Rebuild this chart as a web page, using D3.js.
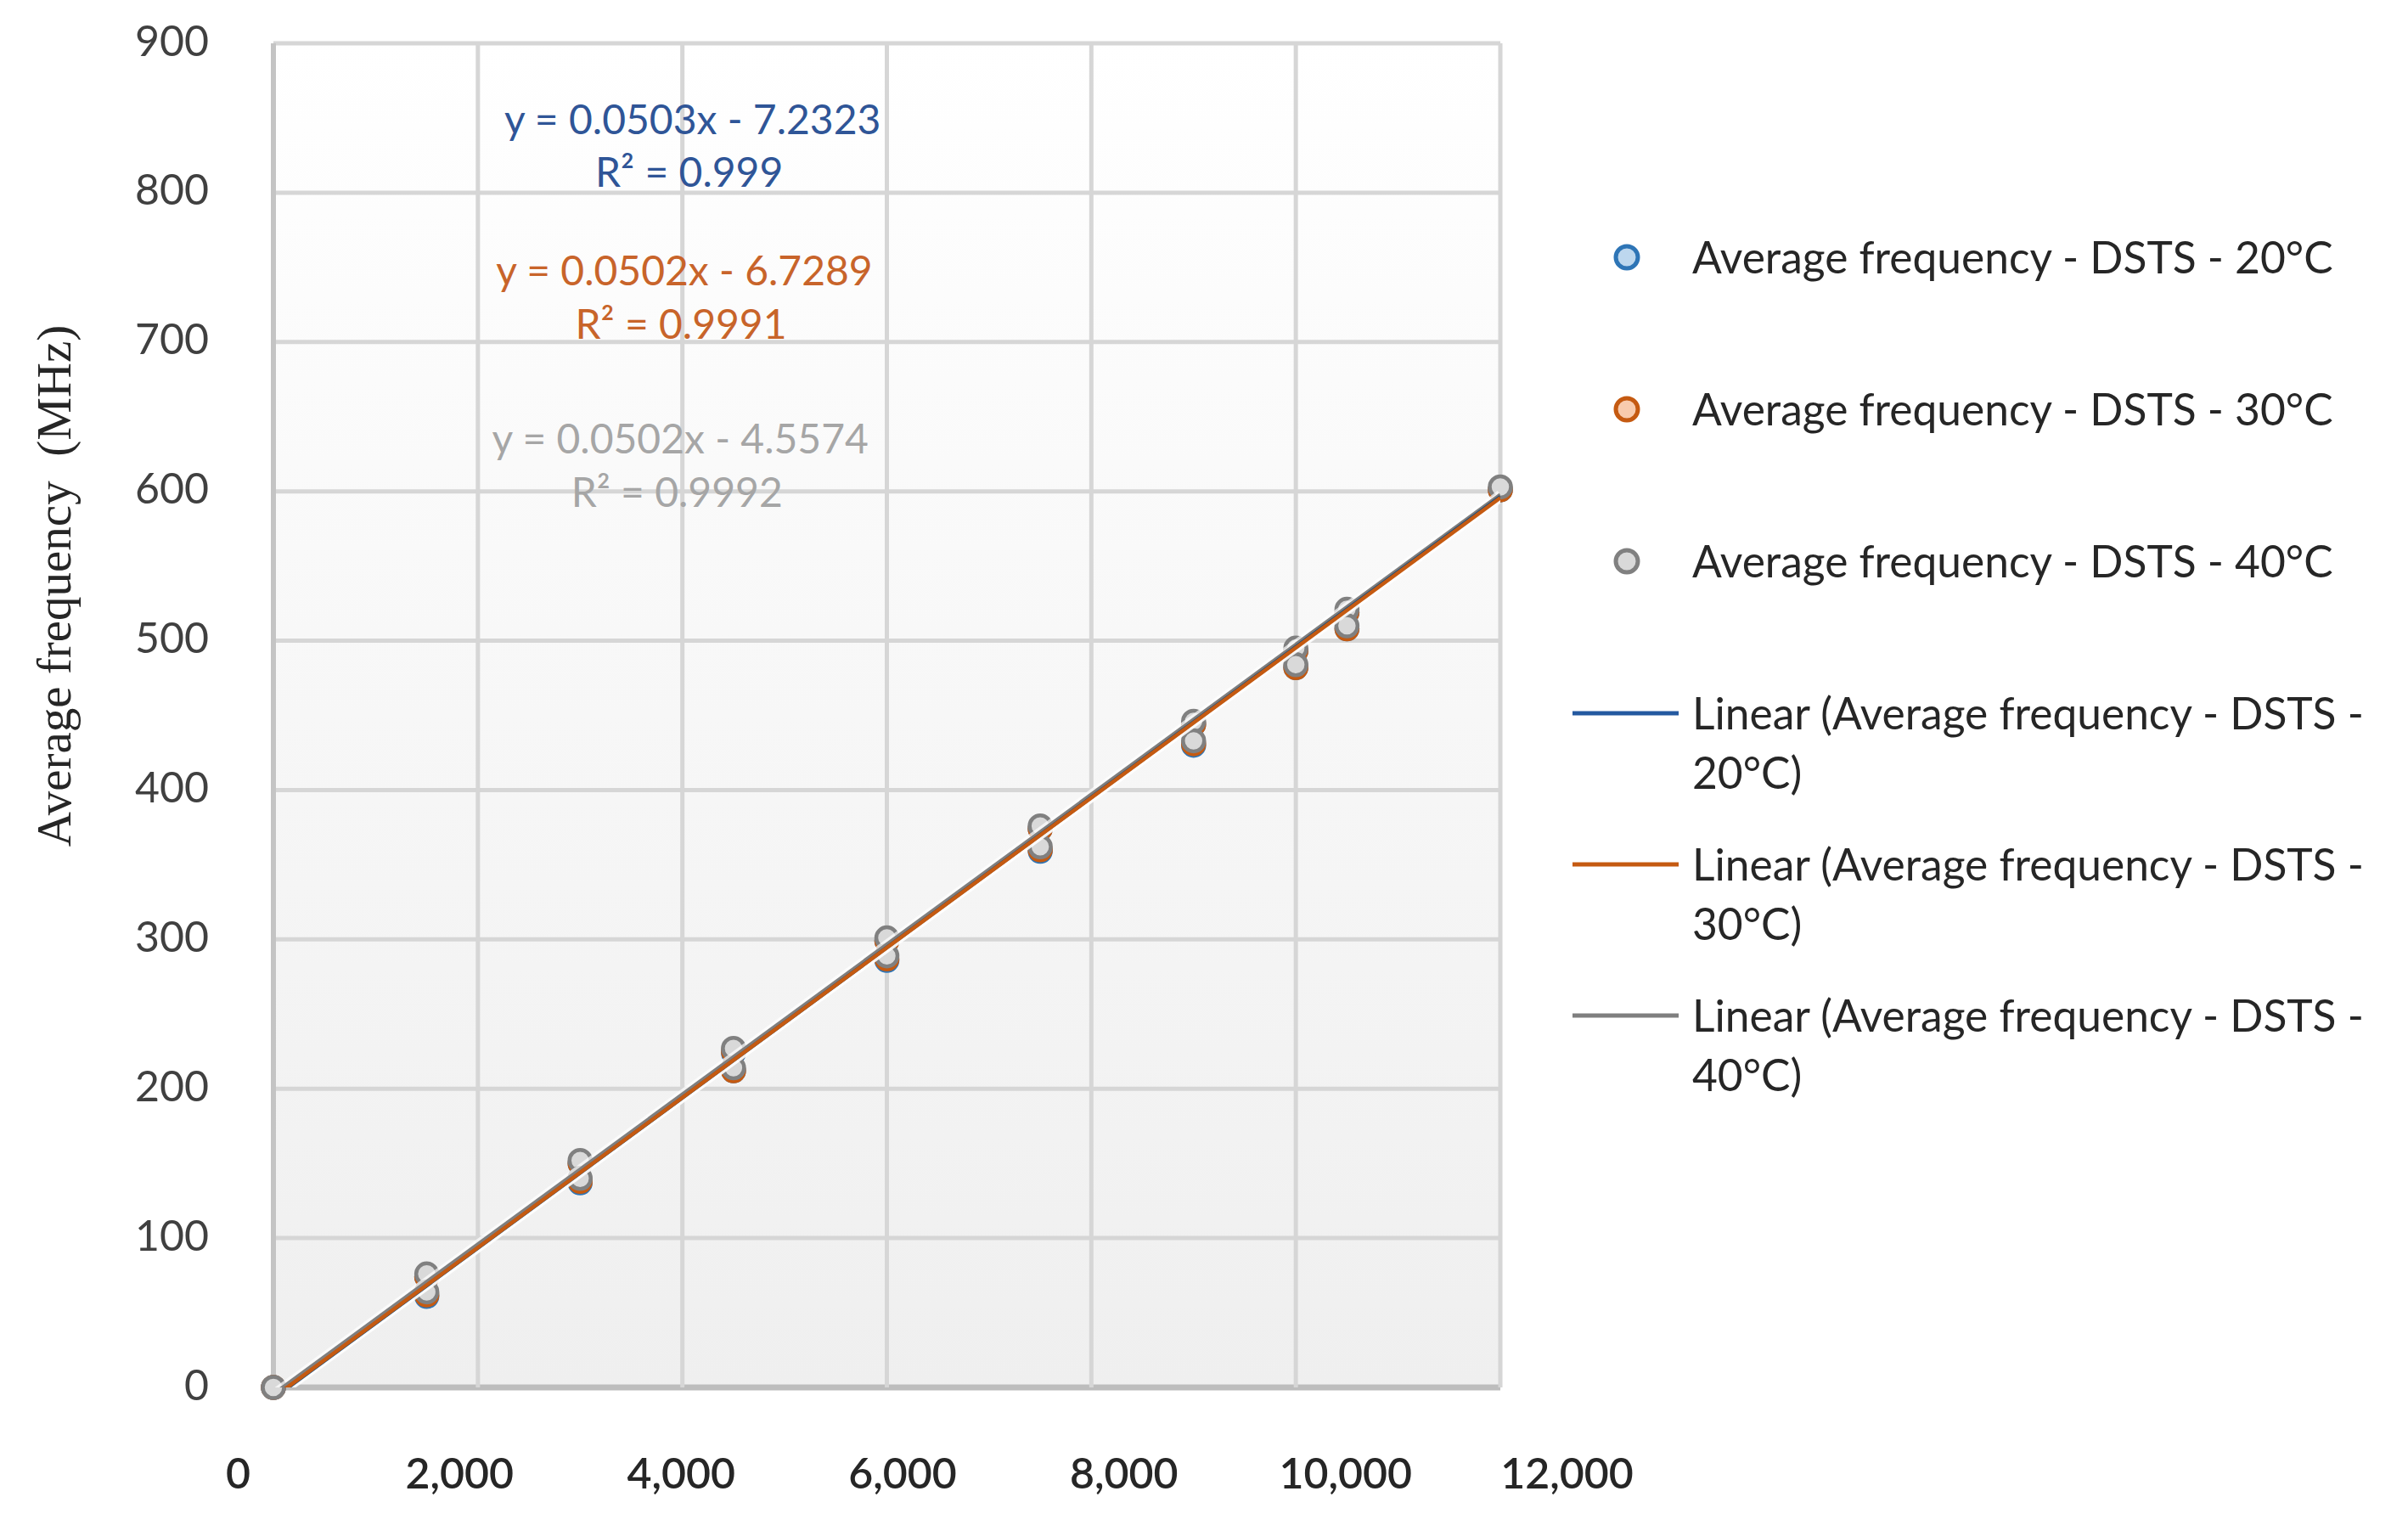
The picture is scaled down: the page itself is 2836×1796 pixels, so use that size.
<!DOCTYPE html>
<html>
<head>
<meta charset="utf-8">
<script src="https://cdn.jsdelivr.net/npm/d3@7"></script>
<style>
  html, body { margin: 0; padding: 0; background: #ffffff; }
  svg { display: block; }
</style>
</head>
<body>
<svg id="chart" width="2836" height="1796"></svg>
<script>
// ---------------- DATA ----------------
const xTickValues = [0, 2000, 4000, 6000, 8000, 10000, 12000];
const yTickValues = [0, 100, 200, 300, 400, 500, 600, 700, 800, 900];

const seriesNames = [
  "Average frequency - DSTS - 20°C",
  "Average frequency - DSTS - 30°C",
  "Average frequency - DSTS - 40°C"
];
const trendNames = [
  ["Linear (Average frequency - DSTS -", "20°C)"],
  ["Linear (Average frequency - DSTS -", "30°C)"],
  ["Linear (Average frequency - DSTS -", "40°C)"]
];

// sample positions (DSTS values)
const xValues = [0, 1500, 1500, 3000, 3000, 4500, 4500, 6000, 6000, 7500, 7500,
                 9000, 9000, 10000, 10000, 10500, 10500, 12000];
// average frequency (MHz)
const freq20 = [0, 74, 61, 150, 137, 224, 212, 299, 286, 374, 359, 444, 430, 493, 482, 519, 508, 601];
const freq30 = [0, 74, 62, 150, 138, 225, 212, 299, 287, 374, 360, 444, 431, 493, 482, 519, 508, 601];
const freq40 = [0, 76, 64, 152, 140, 227, 214, 301, 289, 376, 362, 446, 433, 495, 484, 521, 510, 603];

const trendSlopes = [0.0503, 0.0502, 0.0502];
const trendIntercepts = [-7.2323, -6.7289, -4.5574];
const rSquared = ["0.999", "0.9991", "0.9992"];
const equationTexts = ["y = 0.0503x - 7.2323", "y = 0.0502x - 6.7289", "y = 0.0502x - 4.5574"];

// ---------------- STYLE ----------------
const markerStroke = ["#2e75b6", "#c55a11", "#808080"];
const markerFill = ["#bdd7ee", "#f8cbad", "#d9d9d9"];
const trendColor = ["#1f4e79", "#c55a11", "#7f7f7f"];
const eqColor = ["#2f5597", "#c8642a", "#a6a6a6"];
const sansFont = "Lato, 'Open Sans', sans-serif";

const svg = d3.select("#chart");

const plot = { left: 322, right: 1767, top: 51, bottom: 1634 };

const x = d3.scaleLinear().domain([0, 12000]).range([plot.left, plot.right]);
const y = d3.scaleLinear().domain([0, 900]).range([plot.bottom, plot.top]);
// tick labels of the x axis sit on a wider band than the grid in the original figure
const xLabel = d3.scaleLinear().domain([0, 12000]).range([280, 1845]);

// background gradient
const defs = svg.append("defs");
const grad = defs.append("linearGradient").attr("id", "bg").attr("x1", 0).attr("y1", 0).attr("x2", 0).attr("y2", 1);
grad.append("stop").attr("offset", "0%").attr("stop-color", "#ffffff");
grad.append("stop").attr("offset", "100%").attr("stop-color", "#efefef");
defs.append("clipPath").attr("id", "plotClip")
  .append("rect")
  .attr("x", plot.left).attr("y", plot.top)
  .attr("width", plot.right - plot.left).attr("height", plot.bottom - plot.top);

svg.append("rect")
  .attr("x", plot.left).attr("y", plot.top)
  .attr("width", plot.right - plot.left).attr("height", plot.bottom - plot.top)
  .attr("fill", "url(#bg)");

// gridlines
const grid = svg.append("g");
grid.selectAll("line.h").data(yTickValues).join("line")
  .attr("class", "h")
  .attr("x1", plot.left).attr("x2", plot.right)
  .attr("y1", d => y(d)).attr("y2", d => y(d))
  .attr("stroke", d => d === 0 ? "#bdbdbd" : "#d6d6d6")
  .attr("stroke-width", d => d === 0 ? 7 : 5);
grid.selectAll("line.v").data(xTickValues).join("line")
  .attr("class", "v")
  .attr("x1", d => x(d)).attr("x2", d => x(d))
  .attr("y1", plot.top).attr("y2", plot.bottom)
  .attr("stroke", d => d === 0 ? "#c4c4c4" : "#d6d6d6")
  .attr("stroke-width", d => d === 0 ? 6 : 5);

// axes (labels only)
const yAxis = svg.append("g")
  .attr("transform", `translate(${plot.left},0)`)
  .call(d3.axisLeft(y).tickValues(yTickValues).tickSize(0).tickPadding(76).tickFormat(d3.format("d")));
yAxis.select(".domain").remove();
yAxis.selectAll("text")
  .attr("font-family", sansFont).attr("font-size", 50).attr("fill", "#404040")
  .attr("dy", "0.28em");

const xAxis = svg.append("g")
  .attr("transform", `translate(0,1735)`)
  .call(d3.axisBottom(xLabel).tickValues(xTickValues).tickSize(0).tickFormat(d3.format(",")));
xAxis.select(".domain").remove();
xAxis.selectAll("text")
  .attr("y", 0).attr("dy", "0.36em")
  .attr("font-family", sansFont).attr("font-size", 50).attr("font-weight", 600).attr("fill", "#262626");

// y axis title
svg.append("text")
  .attr("transform", `translate(63,690) rotate(-90)`)
  .attr("text-anchor", "middle").attr("dominant-baseline", "central")
  .attr("font-family", "'Liberation Serif', 'Times New Roman', serif")
  .attr("font-size", 57).attr("fill", "#262626")
  .attr("xml:space", "preserve")
  .text("Average frequency  (MHz)");

// markers
const seriesValues = [freq20, freq30, freq40];
const markers = svg.append("g");
seriesValues.forEach((vals, i) => {
  markers.append("g").selectAll("circle")
    .data(xValues.map((xv, k) => ({ x: xv, y: vals[k] })))
    .join("circle")
    .attr("cx", d => x(d.x)).attr("cy", d => y(d.y))
    .attr("r", 12.5)
    .attr("fill", markerFill[i])
    .attr("stroke", markerStroke[i])
    .attr("stroke-width", 4.5);
});

// trendlines
const trendOrder = [2, 0, 1];
const trends = svg.append("g").attr("clip-path", "url(#plotClip)");
const line = d3.line().x(d => x(d[0])).y(d => y(d[1]));
trendOrder.forEach(i => {
  const xs = d3.extent(xValues);
  const pts = xs.map(xv => [xv, trendSlopes[i] * xv + trendIntercepts[i]]);
  trends.append("path").attr("d", line(pts))
    .attr("fill", "none").attr("stroke", "#ffffff").attr("stroke-opacity", 0.7).attr("stroke-width", 11);
});
trendOrder.forEach(i => {
  const xs = d3.extent(xValues);
  const pts = xs.map(xv => [xv, trendSlopes[i] * xv + trendIntercepts[i]]);
  trends.append("path").attr("d", line(pts))
    .attr("fill", "none").attr("stroke", trendColor[i]).attr("stroke-width", 4.5);
});

// equation labels (anchored in data space)
const eqAnchors = [[4000, 849, 813.5], [3920, 747.6, 711.8], [3880, 635, 599]];
eqAnchors.forEach((a, i) => {
  const g = svg.append("g").attr("font-family", sansFont).attr("font-size", 48)
    .attr("fill", eqColor[i]).attr("text-anchor", "middle");
  g.append("text").attr("x", x(a[0]) + 12).attr("y", y(a[1])).attr("dy", "0.35em")
    .attr("xml:space", "preserve").text(equationTexts[i]);
  g.append("text").attr("x", x(a[0]) + 8).attr("y", y(a[2])).attr("dy", "0.35em")
    .text("R² = " + rSquared[i]);
});

// legend
const legend = svg.append("g").attr("font-family", sansFont).attr("fill", "#262626");
const markerRowY = [303, 482, 661];
seriesNames.forEach((name, i) => {
  legend.append("circle").attr("cx", 1916).attr("cy", markerRowY[i]).attr("r", 13)
    .attr("fill", markerFill[i]).attr("stroke", markerStroke[i]).attr("stroke-width", 5);
  legend.append("text").attr("x", 1993).attr("y", markerRowY[i]).attr("dy", "0.36em")
    .attr("font-size", 51.5).text(name);
});
const lineRowY = [840, 1018, 1196];
trendNames.forEach((lines, i) => {
  legend.append("line").attr("x1", 1852).attr("x2", 1977)
    .attr("y1", lineRowY[i]).attr("y2", lineRowY[i])
    .attr("stroke", trendColor[i] === "#1f4e79" ? "#2459a0" : trendColor[i]).attr("stroke-width", 5);
  lines.forEach((t, k) => {
    legend.append("text").attr("x", 1993).attr("y", lineRowY[i] + k * 70).attr("dy", "0.36em")
      .attr("font-size", 51.5).text(t);
  });
});
</script>
</body>
</html>
